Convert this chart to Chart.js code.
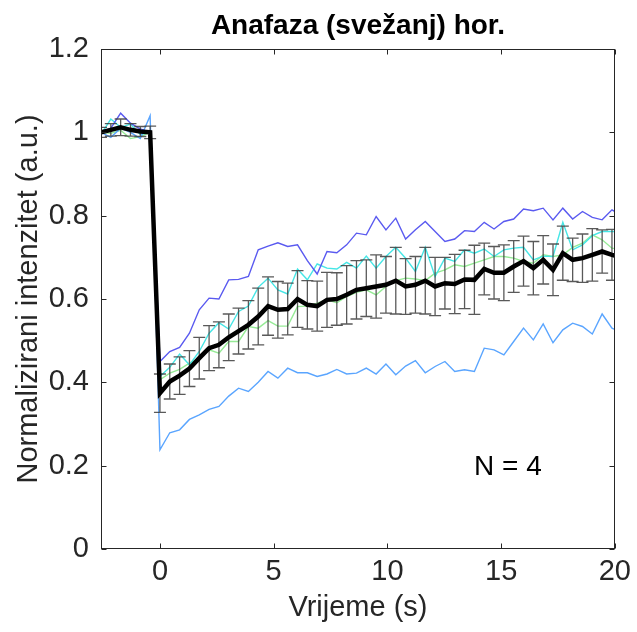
<!DOCTYPE html>
<html>
<head>
    <meta charset="utf-8">
    <title>Anafaza (svežanj) hor.</title>
    <style>
        body {
            margin: 0;
            background-color: #ffffff;
        }

        #graf {
            display: block;
        }
    </style>
    <script src="https://cdn.jsdelivr.net/npm/chart.js"></script>
</head>
<body>
    <canvas id="graf" width="637" height="632"></canvas>

    <script>
        // vremena snimanja (s), bijeljenje u t = 0
        var vrijeme = [-2.592, -2.160, -1.728, -1.296, -0.864, -0.432,
            0, 0.432, 0.864, 1.296, 1.728, 2.160, 2.592, 3.024, 3.456, 3.888,
            4.320, 4.752, 5.184, 5.616, 6.048, 6.480, 6.912, 7.344, 7.776, 8.208,
            8.640, 9.072, 9.504, 9.936, 10.368, 10.800, 11.232, 11.664, 12.096, 12.528,
            12.960, 13.392, 13.824, 14.256, 14.688, 15.120, 15.552, 15.984, 16.416, 16.848,
            17.280, 17.712, 18.144, 18.576, 19.008, 19.440, 19.872, 20.304];

        // pojedinačna mjerenja
        var mjerenje1 = [1.0, 1.01, 1.046, 1.022, 1.008, 1.0,
            0.45, 0.474, 0.484, 0.518, 0.574, 0.602, 0.6, 0.646, 0.647, 0.654,
            0.718, 0.727, 0.735, 0.726, 0.73, 0.692, 0.66, 0.714, 0.711, 0.73,
            0.758, 0.754, 0.798, 0.766, 0.794, 0.744, 0.766, 0.786, 0.762, 0.738,
            0.744, 0.764, 0.762, 0.784, 0.768, 0.786, 0.792, 0.816, 0.812, 0.818,
            0.79, 0.818, 0.792, 0.81, 0.796, 0.79, 0.814, 0.80];
        var mjerenje2 = [1.0, 0.988, 1.01, 1.0, 0.985, 1.04,
            0.238, 0.279, 0.286, 0.311, 0.322, 0.335, 0.342, 0.367, 0.386, 0.378,
            0.4, 0.426, 0.41, 0.434, 0.423, 0.423, 0.414, 0.42, 0.431, 0.42,
            0.422, 0.434, 0.42, 0.444, 0.418, 0.439, 0.452, 0.423, 0.438, 0.45,
            0.426, 0.43, 0.426, 0.482, 0.478, 0.466, 0.498, 0.53, 0.502, 0.54,
            0.495, 0.526, 0.542, 0.534, 0.516, 0.564, 0.53, 0.52];
        var mjerenje3 = [0.995, 1.032, 1.012, 1.02, 0.995, 1.0,
            0.414, 0.436, 0.468, 0.442, 0.474, 0.518, 0.543, 0.528, 0.57, 0.583,
            0.628, 0.65, 0.622, 0.612, 0.672, 0.646, 0.684, 0.674, 0.672, 0.688,
            0.674, 0.703, 0.674, 0.702, 0.724, 0.698, 0.666, 0.724, 0.654, 0.698,
            0.69, 0.718, 0.71, 0.72, 0.702, 0.718, 0.722, 0.724, 0.694, 0.703,
            0.702, 0.784, 0.718, 0.73, 0.752, 0.762, 0.762, 0.762];
        var mjerenje4 = [1.0, 0.998, 1.005, 0.985, 0.99, 1.0,
            0.406, 0.422, 0.431, 0.446, 0.458, 0.478, 0.47, 0.498, 0.498, 0.534,
            0.53, 0.548, 0.535, 0.535, 0.582, 0.583, 0.59, 0.598, 0.591, 0.606,
            0.616, 0.622, 0.61, 0.63, 0.644, 0.65, 0.648, 0.644, 0.662, 0.67,
            0.682, 0.678, 0.686, 0.694, 0.702, 0.702, 0.698, 0.69, 0.686, 0.706,
            0.702, 0.706, 0.724, 0.734, 0.754, 0.742, 0.722, 0.72];

        // srednja vrijednost i greška
        var srednja = [1.0, 1.006, 1.012, 1.006, 1.002, 1.0,
            0.374, 0.402, 0.416, 0.433, 0.458, 0.482, 0.49, 0.508, 0.523, 0.538,
            0.558, 0.583, 0.574, 0.576, 0.6, 0.586, 0.583, 0.598, 0.6, 0.61,
            0.622, 0.626, 0.63, 0.634, 0.644, 0.63, 0.634, 0.644, 0.63, 0.638,
            0.636, 0.647, 0.646, 0.672, 0.663, 0.663, 0.678, 0.691, 0.674, 0.694,
            0.67, 0.71, 0.694, 0.698, 0.706, 0.714, 0.706, 0.70];
        var greska = [0.012, 0.015, 0.02, 0.015, 0.012, 0.015,
            0.046, 0.042, 0.045, 0.043, 0.05, 0.054, 0.055, 0.056, 0.055, 0.058,
            0.068, 0.07, 0.068, 0.062, 0.068, 0.058, 0.06, 0.066, 0.063, 0.07,
            0.07, 0.068, 0.076, 0.068, 0.08, 0.067, 0.068, 0.08, 0.07, 0.062,
            0.071, 0.07, 0.083, 0.062, 0.063, 0.067, 0.062, 0.06, 0.064, 0.058,
            0.062, 0.065, 0.052, 0.058, 0.063, 0.052, 0.061, 0.06];

        var xOznake = [0, 5, 10, 15, 20];
        var yOznake = [0, 0.2, 0.4, 0.6, 0.8, 1, 1.2];

        var naslov = 'Anafaza (svežanj) hor.';
        var natpis = 'N = 4';
        var font = '"Liberation Sans", Arial, Helvetica, sans-serif';

        function tocke(vrijednosti) {
            return vrijednosti.map(function (v, i) {
                return { x: vrijeme[i], y: v };
            });
        }

        function linija(vrijednosti, boja, debljina) {
            return {
                data: tocke(vrijednosti),
                borderColor: boja,
                borderWidth: debljina,
                pointRadius: 0,
                tension: 0,
                fill: false
            };
        }

        // error barovi se crtaju ispod crne linije, iznad mjerenja
        var errorBarovi = {
            id: 'errorBarovi',
            beforeDatasetDraw: function (chart, args) {
                if (args.index !== 0) return;
                var ctx = chart.ctx, a = chart.chartArea;
                var xs = chart.scales.x, ys = chart.scales.y;
                ctx.save();
                ctx.beginPath();
                ctx.rect(a.left, a.top, a.right - a.left, a.bottom - a.top);
                ctx.clip();
                ctx.strokeStyle = 'rgba(60, 60, 60, 0.85)';
                ctx.lineWidth = 1.3;
                ctx.beginPath();
                for (var i = 0; i < vrijeme.length; i++) {
                    var x = xs.getPixelForValue(vrijeme[i]);
                    var y1 = ys.getPixelForValue(srednja[i] + greska[i]);
                    var y2 = ys.getPixelForValue(srednja[i] - greska[i]);
                    ctx.moveTo(x, y1); ctx.lineTo(x, y2);
                    ctx.moveTo(x - 6, y1); ctx.lineTo(x + 6, y1);
                    ctx.moveTo(x - 6, y2); ctx.lineTo(x + 6, y2);
                }
                ctx.stroke();
                ctx.restore();
            }
        };

        // okvir s crticama prema unutra, naslov i natpis
        var okvir = {
            id: 'okvir',
            afterDatasetsDraw: function (chart) {
                var ctx = chart.ctx, a = chart.chartArea;
                var xs = chart.scales.x, ys = chart.scales.y;
                var l = Math.round(a.left) + 0.5, r = Math.round(a.right) - 0.5;
                var t = Math.round(a.top) + 0.5, b = Math.round(a.bottom) - 0.5;
                ctx.save();
                ctx.strokeStyle = '#262626';
                ctx.lineWidth = 1;
                ctx.strokeRect(l, t, r - l, b - t);
                ctx.beginPath();
                xOznake.forEach(function (v) {
                    var x = Math.round(xs.getPixelForValue(v)) + 0.5;
                    ctx.moveTo(x, b); ctx.lineTo(x, b - 5);
                    ctx.moveTo(x, t); ctx.lineTo(x, t + 5);
                });
                yOznake.forEach(function (v) {
                    var y = Math.round(ys.getPixelForValue(v)) + 0.5;
                    ctx.moveTo(l, y); ctx.lineTo(l + 5, y);
                    ctx.moveTo(r, y); ctx.lineTo(r - 5, y);
                });
                ctx.stroke();

                ctx.fillStyle = '#000000';
                ctx.textAlign = 'center';
                ctx.textBaseline = 'middle';
                ctx.font = 'bold 28px ' + font;
                ctx.fillText(naslov, (a.left + a.right) / 2, 26);
                ctx.font = '28px ' + font;
                ctx.fillText(natpis, xs.getPixelForValue(15.3), ys.getPixelForValue(0.196));
                ctx.restore();
            }
        };

        var graf = new Chart(document.getElementById('graf'), {
            type: 'line',
            data: {
                datasets: [
                    linija(srednja, '#000000', 4.5),
                    linija(mjerenje1, 'rgb(90, 90, 240)', 1.4),
                    linija(mjerenje2, 'rgb(90, 165, 255)', 1.4),
                    linija(mjerenje3, 'rgb(70, 230, 230)', 1.4),
                    linija(mjerenje4, 'rgb(150, 235, 150)', 1.4)
                ]
            },
            options: {
                responsive: false,
                animation: false,
                layout: { padding: { top: 49, right: 16, left: 0, bottom: 0 } },
                plugins: {
                    legend: { display: false },
                    tooltip: { enabled: false },
                    title: { display: false }
                },
                scales: {
                    x: {
                        type: 'linear',
                        min: -2.592,
                        max: 20,
                        afterBuildTicks: function (s) {
                            s.ticks = xOznake.map(function (v) { return { value: v }; });
                        },
                        afterFit: function (s) { s.height = 83; },
                        grid: { display: false, drawTicks: false },
                        border: { display: false },
                        ticks: {
                            color: '#262626',
                            font: { size: 29, family: font },
                            padding: 6,
                            maxRotation: 0
                        },
                        title: {
                            display: true,
                            text: 'Vrijeme (s)',
                            color: '#262626',
                            font: { size: 29, family: font },
                            padding: { top: 0, bottom: 7 }
                        }
                    },
                    y: {
                        min: 0,
                        max: 1.2,
                        afterBuildTicks: function (s) {
                            s.ticks = yOznake.map(function (v) { return { value: v }; });
                        },
                        afterFit: function (s) { s.width = 101; },
                        grid: { display: false, drawTicks: false },
                        border: { display: false },
                        ticks: {
                            color: '#262626',
                            font: { size: 29, family: font },
                            padding: 12,
                            callback: function (v) { return String(Math.round(v * 10) / 10); }
                        },
                        title: {
                            display: true,
                            text: 'Normalizirani intenzitet (a.u.)',
                            color: '#262626',
                            font: { size: 29, family: font },
                            padding: { top: 12, bottom: 0 }
                        }
                    }
                }
            },
            plugins: [errorBarovi, okvir]
        });
    </script>
</body>
</html>
